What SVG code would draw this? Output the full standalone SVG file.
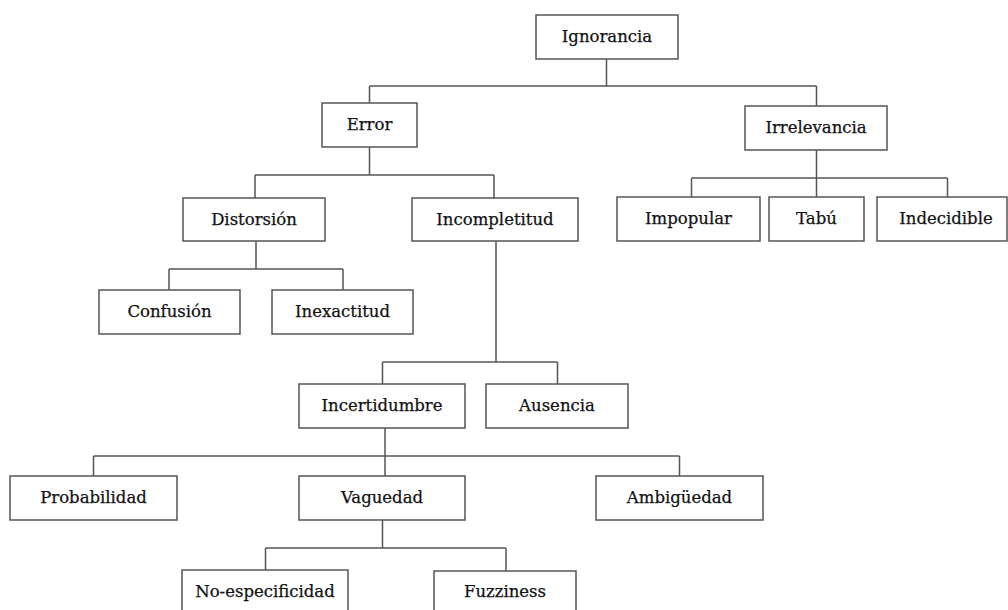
<svg xmlns="http://www.w3.org/2000/svg" width="1008" height="610" viewBox="0 0 1008 610">
<style>
.box{fill:#fff;stroke:#555;stroke-width:1.5}
.lbl{font-family:"DejaVu Serif","Liberation Serif",serif;font-size:16.5px;fill:#111;stroke:#111;stroke-width:0.25;text-anchor:middle}
.con{fill:none;stroke:#555;stroke-width:1.5}
</style>
<rect width="1008" height="610" fill="#fff"/>
<g id="connectors" class="con">
<path d="M606.5,59V86M369.5,86H816.5M369.5,86V103M816.5,86V106"/>
<path d="M369.5,147V175M255,175H494M255,175V198M494,175V198"/>
<path d="M816.5,150V197M691.5,178H947.5M691.5,178V197M947.5,178V197"/>
<path d="M256,241V269M169,269H343M169,269V290M343,269V290"/>
<path d="M496,241V362M382.5,362H557.5M382.5,362V384M557.5,362V384"/>
<path d="M385,428V476M93.5,456H679.5M93.5,456V476M679.5,456V476"/>
<path d="M382.5,520V548M265.5,548H506M265.5,548V570M506,548V571"/>
</g>
<g id="n-ignorancia"><rect class="box" x="536" y="15" width="142" height="44"/><text class="lbl" x="607" y="42">Ignorancia</text></g>
<g id="n-error"><rect class="box" x="322" y="103" width="95" height="44"/><text class="lbl" x="369.5" y="130">Error</text></g>
<g id="n-irrelevancia"><rect class="box" x="745" y="106" width="142" height="44"/><text class="lbl" x="816" y="133">Irrelevancia</text></g>
<g id="n-distorsion"><rect class="box" x="183" y="198" width="142" height="43"/><text class="lbl" x="254" y="225">Distorsión</text></g>
<g id="n-incompletitud"><rect class="box" x="412" y="198" width="166" height="43"/><text class="lbl" x="495" y="225">Incompletitud</text></g>
<g id="n-impopular"><rect class="box" x="617" y="197" width="143" height="44"/><text class="lbl" x="688.5" y="224">Impopular</text></g>
<g id="n-tabu"><rect class="box" x="769" y="197" width="95" height="44"/><text class="lbl" x="816.5" y="224">Tabú</text></g>
<g id="n-indecidible"><rect class="box" x="877" y="197" width="130" height="44"/><text class="lbl" x="946" y="224">Indecidible</text></g>
<g id="n-confusion"><rect class="box" x="99" y="290" width="141" height="44"/><text class="lbl" x="169.5" y="317">Confusión</text></g>
<g id="n-inexactitud"><rect class="box" x="272" y="290" width="141" height="44"/><text class="lbl" x="342.5" y="317">Inexactitud</text></g>
<g id="n-incertidumbre"><rect class="box" x="299" y="384" width="166" height="44"/><text class="lbl" x="382" y="411">Incertidumbre</text></g>
<g id="n-ausencia"><rect class="box" x="486" y="384" width="142" height="44"/><text class="lbl" x="557" y="411">Ausencia</text></g>
<g id="n-probabilidad"><rect class="box" x="10" y="476" width="167" height="44"/><text class="lbl" x="93.5" y="503">Probabilidad</text></g>
<g id="n-vaguedad"><rect class="box" x="299" y="476" width="166" height="44"/><text class="lbl" x="382" y="503">Vaguedad</text></g>
<g id="n-ambiguedad"><rect class="box" x="596" y="476" width="167" height="44"/><text class="lbl" x="679.5" y="503">Ambigüedad</text></g>
<g id="n-noespecificidad"><rect class="box" x="182" y="570" width="166" height="50"/><text class="lbl" x="265" y="597">No-especificidad</text></g>
<g id="n-fuzziness"><rect class="box" x="434" y="571" width="142" height="50"/><text class="lbl" x="505" y="597">Fuzziness</text></g>
</svg>
